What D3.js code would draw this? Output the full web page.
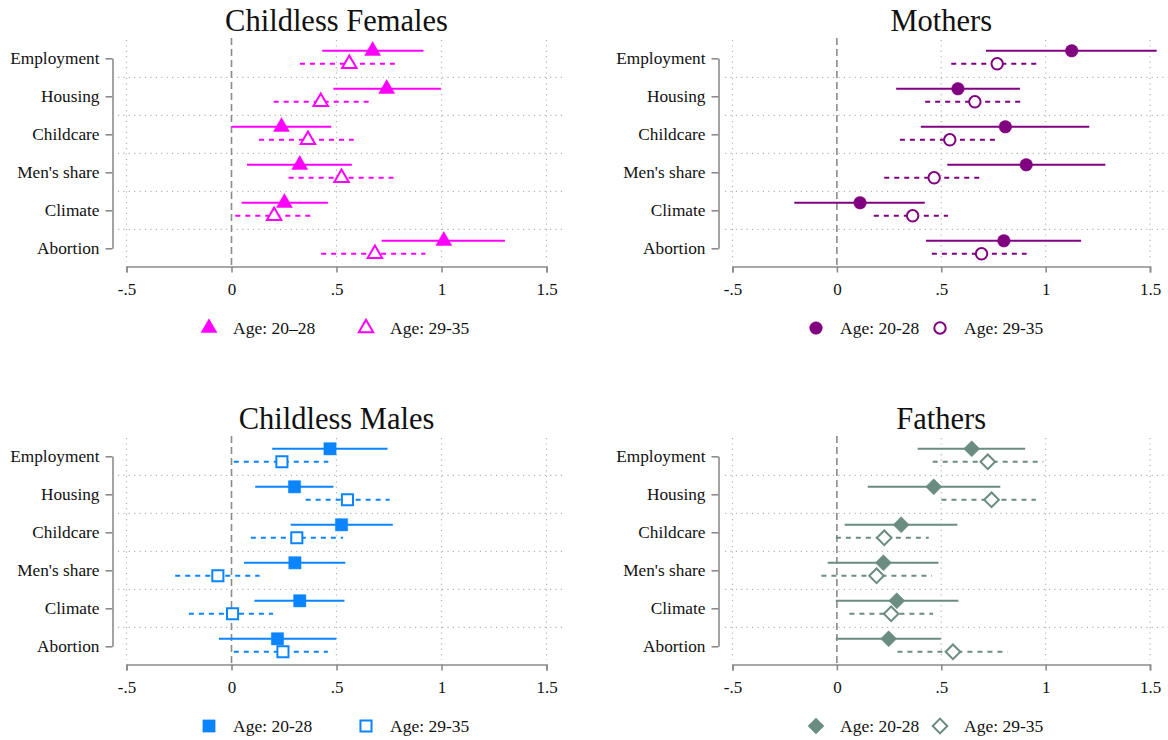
<!DOCTYPE html>
<html>
<head>
<meta charset="utf-8">
<script src="https://cdn.jsdelivr.net/npm/d3@7"></script>
<style>
  body { margin: 0; background: #fff; }
  svg text { font-family: "Liberation Serif", "Times New Roman", serif; fill: #111; }
</style>
</head>
<body>
<svg id="chart" width="1168" height="740"></svg>
<script>
// categories and tick labels
var categories = ["Employment", "Housing", "Childcare", "Men's share", "Climate", "Abortion"];
var xTicks = [-0.5, 0, 0.5, 1, 1.5];

// Childless Females
var cfEst1 = [0.672, 0.739, 0.238, 0.325, 0.252, 1.011];
var cfLo1  = [0.432, 0.485, 0.000, 0.074, 0.048, 0.715];
var cfHi1  = [0.914, 0.997, 0.475, 0.573, 0.459, 1.302];
var cfEst2 = [0.561, 0.425, 0.364, 0.524, 0.203, 0.683];
var cfLo2  = [0.326, 0.201, 0.131, 0.272, 0.018, 0.427];
var cfHi2  = [0.778, 0.653, 0.582, 0.771, 0.378, 0.923];

// Mothers
var moEst1 = [1.125, 0.580, 0.807, 0.907, 0.111, 0.800];
var moLo1  = [0.714, 0.284, 0.402, 0.529, -0.204, 0.427];
var moHi1  = [1.532, 0.877, 1.209, 1.286, 0.421, 1.170];
var moEst2 = [0.768, 0.661, 0.541, 0.466, 0.363, 0.693];
var moLo2  = [0.548, 0.423, 0.302, 0.227, 0.177, 0.455];
var moHi2  = [0.959, 0.880, 0.759, 0.682, 0.532, 0.909];

// Childless Males
var cmEst1 = [0.469, 0.300, 0.524, 0.302, 0.325, 0.219];
var cmLo1  = [0.194, 0.113, 0.282, 0.060, 0.109, -0.060];
var cmHi1  = [0.743, 0.485, 0.768, 0.542, 0.538, 0.499];
var cmEst2 = [0.240, 0.552, 0.311, -0.065, 0.005, 0.245];
var cmLo2  = [0.011, 0.353, 0.092, -0.268, -0.203, 0.011];
var cmHi2  = [0.461, 0.753, 0.531, 0.134, 0.198, 0.459];

// Fathers
var faEst1 = [0.646, 0.464, 0.308, 0.223, 0.287, 0.248];
var faLo1  = [0.387, 0.148, 0.037, -0.044, -0.005, -0.005];
var faHi1  = [0.902, 0.783, 0.577, 0.487, 0.582, 0.498];
var faEst2 = [0.723, 0.741, 0.227, 0.190, 0.260, 0.556];
var faLo2  = [0.459, 0.501, -0.005, -0.074, 0.060, 0.290];
var faHi2  = [0.989, 0.953, 0.440, 0.456, 0.461, 0.818];

var svg = d3.select("#chart");
var serif = "'Liberation Serif', 'Times New Roman', serif";

function fmtTick(d) {
    if (d === 0) return "0";
    return String(d).replace(/^(-?)0\./, "$1.");
}

function series(est, lo, hi) {
    return categories.map(function (c, i) {
        return { cat: c, est: est[i], lo: lo[i], hi: hi[i] };
    });
}

function makePanel(p) {
    var g = svg.append("g").attr("transform", "translate(0," + p.top + ")");

    var x = d3.scaleLinear().domain([-0.5, 1.5]).range([p.x0, p.x1]);
    var y = d3.scalePoint().domain(categories).range([58.3, 248.3]);

    // title
    g.append("text")
        .attr("x", (p.x0 + p.x1) / 2)
        .attr("y", 31)
        .attr("text-anchor", "middle")
        .style("font-size", "30.5px")
        .text(p.title);

    // horizontal dotted grid between categories
    var mids = d3.range(categories.length - 1).map(function (i) {
        return (y(categories[i]) + y(categories[i + 1])) / 2;
    });
    g.selectAll(".hgrid").data(mids).enter().append("line")
        .attr("x1", p.gx0).attr("x2", p.gx1)
        .attr("y1", function (d) { return d; })
        .attr("y2", function (d) { return d; })
        .attr("stroke", "#b5b5b5").attr("stroke-width", 1.2)
        .attr("stroke-dasharray", "1.2,4.2");

    // vertical dotted grid
    g.selectAll(".vgrid").data(xTicks.filter(function (d) { return d !== 0; })).enter().append("line")
        .attr("x1", function (d) { return x(d); })
        .attr("x2", function (d) { return x(d); })
        .attr("y1", 40).attr("y2", 262)
        .attr("stroke", "#b5b5b5").attr("stroke-width", 1.2)
        .attr("stroke-dasharray", "1.2,4.2");

    // zero reference line
    g.append("line")
        .attr("x1", x(0)).attr("x2", x(0))
        .attr("y1", 38).attr("y2", 266)
        .attr("stroke", "#8a8a8a").attr("stroke-width", 1.6)
        .attr("stroke-dasharray", "7,4");

    // x axis
    var xAxis = g.append("g")
        .attr("transform", "translate(0,266.5)")
        .call(d3.axisBottom(x).tickValues(xTicks).tickFormat(fmtTick).tickSize(6).tickSizeOuter(6).tickPadding(10));
    xAxis.selectAll("path, line").attr("stroke", "#8c8c8c").attr("stroke-width", 1.6);
    xAxis.selectAll("text").style("font-size", "17px").attr("fill", "#111")
        .style("font-family", serif);

    // y axis (bracket)
    var yAxis = g.append("g")
        .attr("transform", "translate(" + p.yAxisX + ",0)")
        .call(d3.axisLeft(y).tickSize(7).tickSizeOuter(0).tickPadding(6));
    yAxis.selectAll("path, line").attr("stroke", "#8c8c8c").attr("stroke-width", 1.6);
    yAxis.selectAll("text").style("font-size", "17.3px").attr("fill", "#111")
        .style("font-family", serif);

    var sets = [
        { data: series(p.est1, p.lo1, p.hi1), dy: -7.5, dash: null, filled: true },
        { data: series(p.est2, p.lo2, p.hi2), dy: 5.5, dash: "5,5", filled: false }
    ];

    sets.forEach(function (s) {
        var sg = g.append("g");
        sg.selectAll("line.ci").data(s.data).enter().append("line")
            .attr("x1", function (d) { return x(d.lo); })
            .attr("x2", function (d) { return x(d.hi); })
            .attr("y1", function (d) { return y(d.cat) + s.dy; })
            .attr("y2", function (d) { return y(d.cat) + s.dy; })
            .attr("stroke", p.color).attr("stroke-width", 2)
            .attr("stroke-dasharray", s.dash);

        sg.selectAll("path.mk").data(s.data).enter().append("path")
            .attr("d", d3.symbol().type(p.symbol).size(s.filled ? p.size : p.size * 0.82))
            .attr("transform", function (d) {
                return "translate(" + x(d.est) + "," + (y(d.cat) + s.dy) + ")" + (p.rotate ? " rotate(45)" : "");
            })
            .attr("fill", s.filled ? p.color : "#fff")
            .attr("stroke", p.color)
            .attr("stroke-width", s.filled ? 0.5 : 2);
    });

    // legend
    var lg = g.append("g").attr("transform", "translate(0,328)");
    var items = [
        { label: p.leg1, filled: true, x: p.legX[0] },
        { label: "Age: 29-35", filled: false, x: p.legX[1] }
    ];
    items.forEach(function (it) {
        lg.append("path")
            .attr("d", d3.symbol().type(p.symbol).size(it.filled ? p.size : p.size * 0.82))
            .attr("transform", "translate(" + it.x + ",0)" + (p.rotate ? " rotate(45)" : ""))
            .attr("fill", it.filled ? p.color : "#fff")
            .attr("stroke", p.color)
            .attr("stroke-width", it.filled ? 0.5 : 2);
        lg.append("text")
            .attr("x", it.x + 24)
            .attr("y", 6)
            .style("font-size", "17.5px")
            .text(it.label);
    });
}

var left = { x0: 126.5, x1: 546.5, gx0: 118, gx1: 565, yAxisX: 112.5, legX: [209, 366] };
var right = { x0: 732.5, x1: 1150, gx0: 725, gx1: 1168, yAxisX: 718.5, legX: [816, 940] };

makePanel(Object.assign({}, left, {
    top: 0, title: "Childless Females", color: "#ff00ff",
    symbol: d3.symbolTriangle, size: 110, rotate: false, leg1: "Age: 20\u201328",
    est1: cfEst1, lo1: cfLo1, hi1: cfHi1, est2: cfEst2, lo2: cfLo2, hi2: cfHi2
}));
makePanel(Object.assign({}, right, {
    top: 0, title: "Mothers", color: "#800080",
    symbol: d3.symbolCircle, size: 125, rotate: false, leg1: "Age: 20-28",
    est1: moEst1, lo1: moLo1, hi1: moHi1, est2: moEst2, lo2: moLo2, hi2: moHi2
}));
makePanel(Object.assign({}, left, {
    top: 398, title: "Childless Males", color: "#0a84ff",
    symbol: d3.symbolSquare, size: 150, rotate: false, leg1: "Age: 20-28",
    est1: cmEst1, lo1: cmLo1, hi1: cmHi1, est2: cmEst2, lo2: cmLo2, hi2: cmHi2
}));
makePanel(Object.assign({}, right, {
    top: 398, title: "Fathers", color: "#6b8c80",
    symbol: d3.symbolSquare, size: 130, rotate: true, leg1: "Age: 20-28",
    est1: faEst1, lo1: faLo1, hi1: faHi1, est2: faEst2, lo2: faLo2, hi2: faHi2
}));
</script>
</body>
</html>
